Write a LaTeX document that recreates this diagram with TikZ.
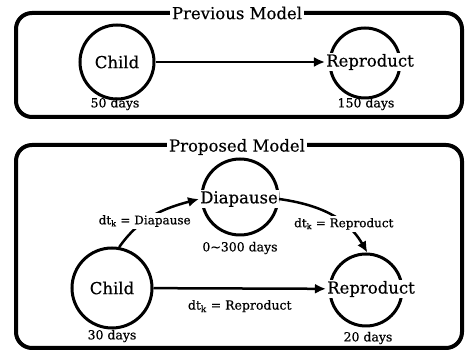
\documentclass[tikz,border=0pt]{standalone}
\usepackage{fontspec}
\setmainfont{DejaVu Serif}[FakeBold=0.5]
\usetikzlibrary{arrows.meta}
\tikzset{
  frame/.style={line width=4pt, rounded corners=16pt},
  title/.style={fill=white, inner sep=2pt, font=\fontsize{16.5}{18}\selectfont},
  stage/.style={circle, draw, line width=3pt, inner sep=0pt, font=\fontsize{16.5}{18}\selectfont},
  lbl/.style={fill=white, inner sep=1pt, font=\fontsize{16.5}{18}\selectfont},
  days/.style={font=\fontsize{12.5}{14}\selectfont},
  cond/.style={fill=white, inner sep=2pt, font=\fontsize{12}{14}\selectfont},
  flow/.style={line width=2.5pt, -{Latex[length=11pt,width=10pt]}},
}
\begin{document}
\begin{tikzpicture}[x=1pt,y=-1pt]
  \useasboundingbox (0,0) rectangle (472,352);

  % previous model
  \draw[frame] (16,13) rectangle (462,117);
  \node[title] (prev) at (237,13) {Previous Model};
  \node[stage, minimum size=74pt] (c1) at (117,62) {Child};
  \node[stage, minimum size=70pt] (r1) at (365,63) {};
  \node[lbl] (r1t) at (370,62) {Reproduct};
  \node[days] (c1d) at (115,104) {50 days};
  \node[days] (r1d) at (366,104) {150 days};
  \draw[flow] (c1) -- (r1t);

  % proposed model
  \draw[frame] (16,145) rectangle (462,348);
  \node[title] (prop) at (237,147) {Proposed Model};
  \node[stage, minimum size=76pt] (d2) at (240,197) {};
  \node[lbl] (d2t) at (239,199) {Diapause};
  \node[days] (d2d) at (240,248) {0\char`~300 days};
  \node[stage, minimum size=80pt] (c2) at (112,288) {Child};
  \node[days] (c2d) at (112,336) {30 days};
  \node[stage, minimum size=72pt] (r2) at (366,290) {};
  \node[lbl] (r2t) at (371,289) {Reproduct};
  \node[days] (r2d) at (368,338) {20 days};
  \draw[flow] (c2) -- (r2t) node[midway, below=7pt, days] {dt\textsubscript{k} = Reproduct};
  \draw[flow] (c2.80) to[out=55,in=195]
    node[pos=.38, cond] {dt\textsubscript{k} = Diapause} (d2t.west);
  \draw[flow] (d2t.east) to[out=-8,in=120]
    node[pos=.66, cond] {dt\textsubscript{k} = Reproduct} (r2.88);
\end{tikzpicture}
\end{document}
